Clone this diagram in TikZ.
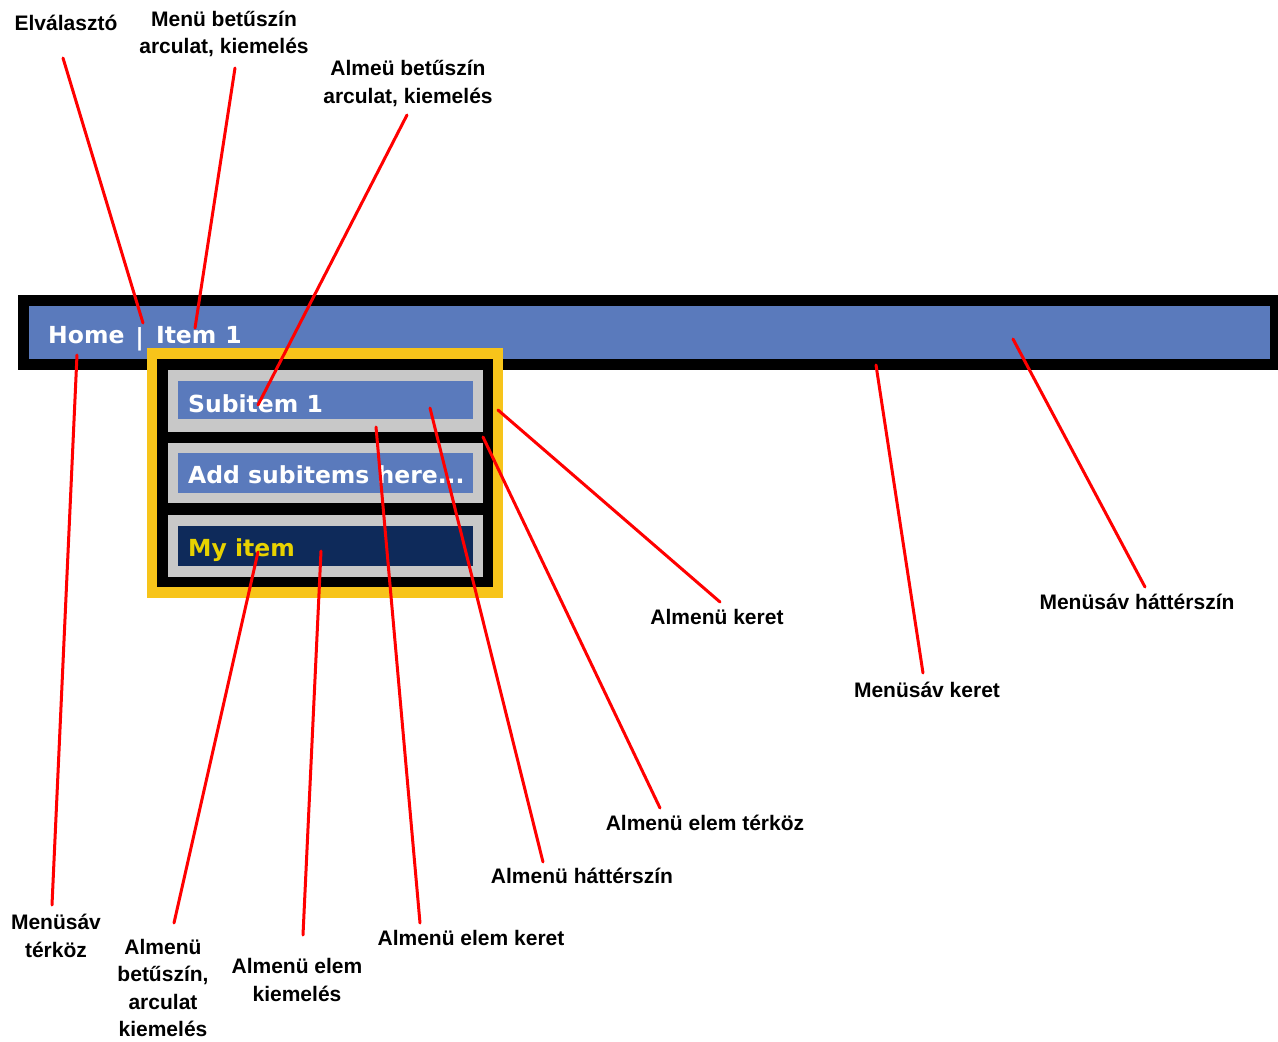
\documentclass[tikz,border=0pt]{standalone}
\usepackage{fontspec}
\setmainfont{Liberation Sans}
\newfontfamily\menufont{DejaVu Sans}
\definecolor{barblue}{RGB}{90,122,188}
\definecolor{navy}{RGB}{14,42,90}
\definecolor{menuyellow}{RGB}{247,196,26}
\definecolor{itemgray}{RGB}{200,200,200}
\definecolor{itemyellow}{RGB}{232,210,0}
\definecolor{leader}{RGB}{255,0,0}
\tikzset{
  lbl/.style={font=\bfseries\fontsize{21}{27.5}\selectfont, align=center, inner sep=0pt, text=black},
  mtext/.style={font=\menufont\bfseries\fontsize{23.5}{28}\selectfont, inner sep=0pt, anchor=base west},
  leaderline/.style={draw=leader, line width=3pt, line cap=round}
}
\begin{document}
\begin{tikzpicture}[x=1pt,y=-1pt]
\useasboundingbox (0,0) rectangle (1278,1042);
\fill[white] (0,0) rectangle (1278,1042);
% menu bar
\fill[black] (18,295) rectangle (1278,370);
\fill[barblue] (29,306) rectangle (1270,359);
\node[mtext, text=white] (menutext) at (48,343) {Home\hspace{11pt}\raisebox{-2pt}{|}\hspace{12pt}Item\hspace{9pt}1};
% submenu
\fill[menuyellow] (147,348) rectangle (503,598);
\fill[black] (157,359) rectangle (493,587);
\fill[itemgray] (168,370) rectangle (483,432);
\fill[barblue] (178,381) rectangle (473,419);
\fill[itemgray] (168,443) rectangle (483,503);
\fill[barblue] (178,453) rectangle (473,493);
\fill[itemgray] (168,515) rectangle (483,577);
\fill[navy] (178,526) rectangle (473,566);
\node[mtext, text=white] (sub1) at (188,412) {Subitem 1};
\node[mtext, text=white] (sub2) at (188,483) {Add subitems here...};
\node[mtext, text=itemyellow] (sub3) at (188,556) {My item};
% labels
\node[lbl] (l1) at (66,23) {Elválasztó};
\node[lbl] (l2) at (224,34) {Menü betűszín\\arculat, kiemelés};
\node[lbl] (l3) at (408,83.5) {Almeü betűszín\\arculat, kiemelés};
\node[lbl] (l4) at (56,936) {Menüsáv\\térköz};
\node[lbl] (l5) at (163,988) {Almenü\\betűszín,\\arculat\\kiemelés};
\node[lbl] (l6) at (297,980) {Almenü elem\\kiemelés};
\node[lbl] (l7) at (471,938) {Almenü elem keret};
\node[lbl] (l8) at (582,876) {Almenü háttérszín};
\node[lbl] (l9) at (705,823) {Almenü elem térköz};
\node[lbl] (l10) at (717,617) {Almenü keret};
\node[lbl] (l11) at (927,690) {Menüsáv keret};
\node[lbl] (l12) at (1137,602) {Menüsáv háttérszín};
% leader end points
\coordinate (a1) at (63,58);   \coordinate (b1) at (143,323);
\coordinate (a2) at (235,68);  \coordinate (b2) at (195,328);
\coordinate (a3) at (407,115); \coordinate (b3) at (258,405);
\coordinate (a4) at (52,905);  \coordinate (b4) at (77,355);
\coordinate (a5) at (174,923); \coordinate (b5) at (258,552);
\coordinate (a6) at (303,935); \coordinate (b6) at (321,551);
\coordinate (a7) at (420,923); \coordinate (b7) at (376,427);
\coordinate (a8) at (543,862); \coordinate (b8) at (430,408);
\coordinate (a9) at (660,808); \coordinate (b9) at (483,437);
\coordinate (a10) at (720,602); \coordinate (b10) at (498,410);
\coordinate (a11) at (923,673); \coordinate (b11) at (876,365);
\coordinate (a12) at (1145,587); \coordinate (b12) at (1013,339);
\foreach \i in {1,...,12} { \draw[leaderline] (a\i) -- (b\i); }
\end{tikzpicture}
\end{document}
